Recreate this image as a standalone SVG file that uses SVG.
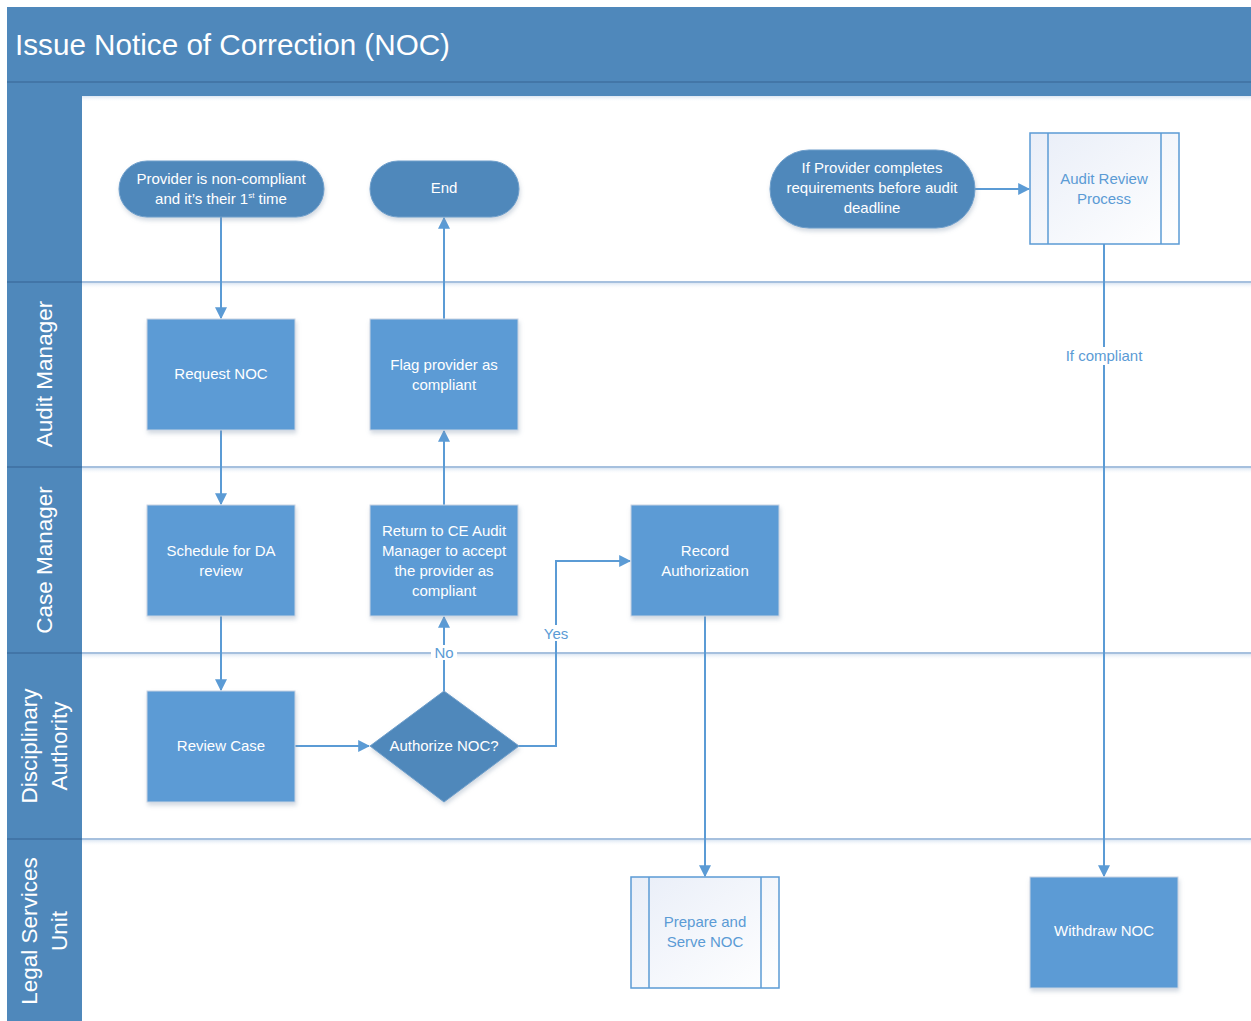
<svg xmlns="http://www.w3.org/2000/svg" width="1251" height="1021" viewBox="0 0 1251 1021">
  <style>
    .txt { font-family: "Liberation Sans", Arial, sans-serif; font-size: 15px; fill: #ffffff; text-anchor: middle; }
    .sub { fill: #5b9bd5; }
    .lane-lbl { font-family: "Liberation Sans", Arial, sans-serif; font-size: 22.5px; fill: #ffffff; text-anchor: middle; }
    .proc { fill: #5b9bd5; stroke: #c9d4e3; stroke-width: 1; filter: url(#shadow); }
    .term { fill: #4f88bb; stroke: #6f9fcb; stroke-width: 1; filter: url(#shadow); }
    .subp { fill: url(#subfill); stroke: #5b9bd5; stroke-width: 1.5; }
    .conn { fill: none; stroke: #5b9bd5; stroke-width: 2; }
    .lbl { font-family: "Liberation Sans", Arial, sans-serif; font-size: 15px; fill: #5b9bd5; text-anchor: middle; }
    .lane-line { stroke: #4f81bd; stroke-width: 1.2; }
  </style>
  <defs>
    <marker id="arrow" viewBox="0 0 10 10" refX="9" refY="5" markerWidth="6" markerHeight="6" orient="auto" markerUnits="strokeWidth">
      <path d="M0,0 L10,5 L0,10 z" fill="#5b9bd5"/>
    </marker>
    <linearGradient id="subfill" x1="0" y1="0" x2="1" y2="1">
      <stop offset="0" stop-color="#e9eef8"/>
      <stop offset="1" stop-color="#ffffff"/>
    </linearGradient>
    <linearGradient id="laneglow" x1="0" y1="0" x2="0" y2="1">
      <stop offset="0" stop-color="#dbe6f3"/>
      <stop offset="1" stop-color="#ffffff" stop-opacity="0"/>
    </linearGradient>
    <filter id="shadow" x="-10%" y="-10%" width="125%" height="130%">
      <feDropShadow dx="1" dy="3" stdDeviation="2" flood-color="#7f93aa" flood-opacity="0.35"/>
    </filter>
  </defs>

  <!-- pool header -->
  <g id="header">
    <rect x="7" y="7" width="1244" height="89" fill="#4f88bb"/>
    <line x1="7" y1="82" x2="1251" y2="82" stroke="#3f70a0" stroke-width="1.5"/>
    <text x="15" y="55" font-family="Liberation Sans, Arial, sans-serif" font-size="29" fill="#ffffff" textLength="435" lengthAdjust="spacingAndGlyphs">Issue Notice of Correction (NOC)</text>
  </g>

  <!-- swimlanes -->
  <g id="lanes">
    <rect x="7" y="96" width="75" height="925" fill="#4f88bb"/>
    <rect x="82" y="96" width="1169" height="6" fill="url(#laneglow)"/>
    <rect x="82" y="283" width="1169" height="6" fill="url(#laneglow)"/>
    <rect x="82" y="468" width="1169" height="6" fill="url(#laneglow)"/>
    <rect x="82" y="654" width="1169" height="6" fill="url(#laneglow)"/>
    <rect x="82" y="840" width="1169" height="6" fill="url(#laneglow)"/>
    <line class="lane-line" x1="7" y1="282" x2="1251" y2="282"/>
    <line class="lane-line" x1="7" y1="467" x2="1251" y2="467"/>
    <line class="lane-line" x1="7" y1="653" x2="1251" y2="653"/>
    <line class="lane-line" x1="7" y1="839" x2="1251" y2="839"/>
    <line x1="7" y1="282" x2="82" y2="282" stroke="#3f70a0" stroke-width="1.5"/>
    <line x1="7" y1="467" x2="82" y2="467" stroke="#3f70a0" stroke-width="1.5"/>
    <line x1="7" y1="653" x2="82" y2="653" stroke="#3f70a0" stroke-width="1.5"/>
    <line x1="7" y1="839" x2="82" y2="839" stroke="#3f70a0" stroke-width="1.5"/>
    <text class="lane-lbl" transform="translate(52,374) rotate(-90)">Audit Manager</text>
    <text class="lane-lbl" transform="translate(52,560) rotate(-90)">Case Manager</text>
    <text class="lane-lbl" transform="translate(37,746) rotate(-90)">Disciplinary</text>
    <text class="lane-lbl" transform="translate(67,746) rotate(-90)">Authority</text>
    <text class="lane-lbl" transform="translate(37,931) rotate(-90)">Legal Services</text>
    <text class="lane-lbl" transform="translate(67,931) rotate(-90)">Unit</text>
  </g>

  <!-- connectors -->
  <g id="connectors">
    <path class="conn" d="M221,217 V318" marker-end="url(#arrow)"/>
    <path class="conn" d="M221,430 V504" marker-end="url(#arrow)"/>
    <path class="conn" d="M221,616 V690" marker-end="url(#arrow)"/>
    <path class="conn" d="M295,746 H369" marker-end="url(#arrow)"/>
    <path class="conn" d="M444,691 V617" marker-end="url(#arrow)"/>
    <path class="conn" d="M519,746 H556 V561 H630" marker-end="url(#arrow)"/>
    <path class="conn" d="M444,505 V431" marker-end="url(#arrow)"/>
    <path class="conn" d="M444,319 V218" marker-end="url(#arrow)"/>
    <path class="conn" d="M705,616 V876" marker-end="url(#arrow)"/>
    <path class="conn" d="M975,189 H1029" marker-end="url(#arrow)"/>
    <path class="conn" d="M1104,244 V876" marker-end="url(#arrow)"/>
    <rect x="431" y="645" width="26" height="15" fill="#ffffff"/>
    <text class="lbl" x="444" y="658">No</text>
    <rect x="539" y="625" width="34" height="16" fill="#ffffff"/>
    <text class="lbl" x="556" y="639">Yes</text>
    <rect x="1058" y="347" width="92" height="18" fill="#ffffff"/>
    <text class="lbl" x="1104" y="361">If compliant</text>
  </g>

  <!-- nodes -->
  <g id="start">
    <rect class="term" x="119" y="161" width="205" height="56" rx="28"/>
    <text class="txt" x="221" y="184">Provider is non-compliant</text>
    <text class="txt" x="221" y="204">and it’s their 1<tspan font-size="8" dy="-6">st</tspan><tspan dy="6"> time</tspan></text>
  </g>
  <g id="end">
    <rect class="term" x="370" y="161" width="149" height="56" rx="28"/>
    <text class="txt" x="444" y="193">End</text>
  </g>
  <g id="provider-completes">
    <rect class="term" x="770" y="150" width="205" height="78" rx="39"/>
    <text class="txt" x="872" y="173">If Provider completes</text>
    <text class="txt" x="872" y="193">requirements before audit</text>
    <text class="txt" x="872" y="213">deadline</text>
  </g>
  <g id="audit-review">
    <rect class="subp" x="1030" y="133" width="149" height="111"/>
    <line x1="1048" y1="133" x2="1048" y2="244" stroke="#5b9bd5" stroke-width="1.5"/>
    <line x1="1161" y1="133" x2="1161" y2="244" stroke="#5b9bd5" stroke-width="1.5"/>
    <text class="txt sub" x="1104" y="184">Audit Review</text>
    <text class="txt sub" x="1104" y="204">Process</text>
  </g>
  <g id="request-noc">
    <rect class="proc" x="147" y="319" width="148" height="111"/>
    <text class="txt" x="221" y="379">Request NOC</text>
  </g>
  <g id="flag-provider">
    <rect class="proc" x="370" y="319" width="148" height="111"/>
    <text class="txt" x="444" y="370">Flag provider as</text>
    <text class="txt" x="444" y="390">compliant</text>
  </g>
  <g id="schedule-da">
    <rect class="proc" x="147" y="505" width="148" height="111"/>
    <text class="txt" x="221" y="556">Schedule for DA</text>
    <text class="txt" x="221" y="576">review</text>
  </g>
  <g id="return-ce">
    <rect class="proc" x="370" y="505" width="148" height="111"/>
    <text class="txt" x="444" y="536">Return to CE Audit</text>
    <text class="txt" x="444" y="556">Manager to accept</text>
    <text class="txt" x="444" y="576">the provider as</text>
    <text class="txt" x="444" y="596">compliant</text>
  </g>
  <g id="record-authorization">
    <rect class="proc" x="631" y="505" width="148" height="111"/>
    <text class="txt" x="705" y="556">Record</text>
    <text class="txt" x="705" y="576">Authorization</text>
  </g>
  <g id="review-case">
    <rect class="proc" x="147" y="691" width="148" height="111"/>
    <text class="txt" x="221" y="751">Review Case</text>
  </g>
  <g id="authorize-noc">
    <path class="term" d="M444,691 L519,746 L444,802 L370,746 Z"/>
    <text class="txt" x="444" y="751">Authorize NOC?</text>
  </g>
  <g id="prepare-serve">
    <rect class="subp" x="631" y="877" width="148" height="111"/>
    <line x1="649" y1="877" x2="649" y2="988" stroke="#5b9bd5" stroke-width="1.5"/>
    <line x1="761" y1="877" x2="761" y2="988" stroke="#5b9bd5" stroke-width="1.5"/>
    <text class="txt sub" x="705" y="927">Prepare and</text>
    <text class="txt sub" x="705" y="947">Serve NOC</text>
  </g>
  <g id="withdraw-noc">
    <rect class="proc" x="1030" y="877" width="148" height="111"/>
    <text class="txt" x="1104" y="936">Withdraw NOC</text>
  </g>
</svg>
